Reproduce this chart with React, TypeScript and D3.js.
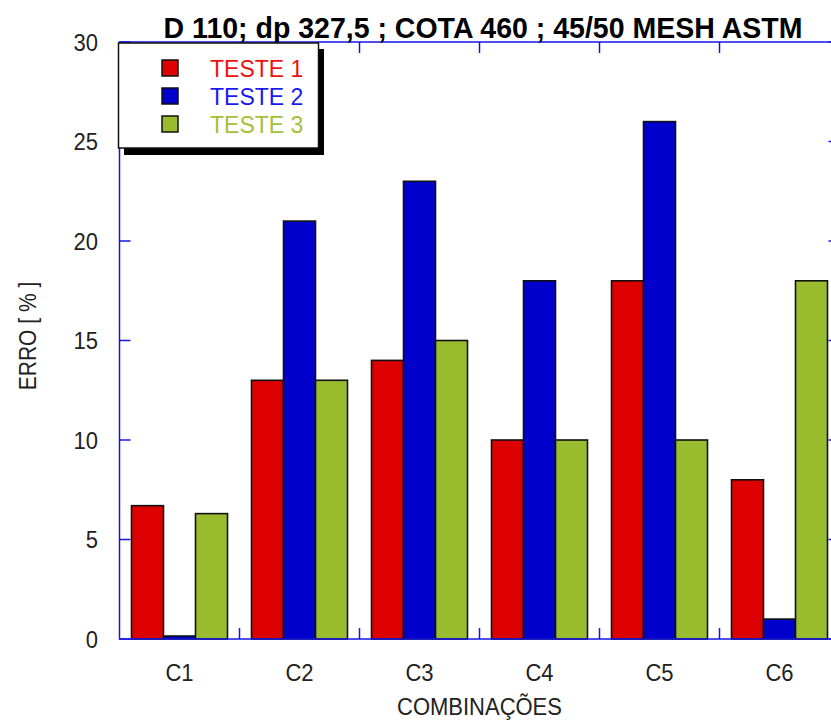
import React, { useEffect, useRef } from "react";
import * as d3 from "d3";

const categories = ["C1", "C2", "C3", "C4", "C5", "C6"];
const seriesNames = ["TESTE 1", "TESTE 2", "TESTE 3"];
const teste1 = [6.7, 13, 14, 10, 18, 8];
const teste2 = [0.15, 21, 23, 18, 26, 1];
const teste3 = [6.3, 13, 15, 10, 10, 18];
const yTicks = [0, 5, 10, 15, 20, 25, 30];
const barColors = ["#dd0000", "#0000cc", "#99bb2e"];
const textColors = ["#ee1111", "#1a1aee", "#a4c038"];
const title = "D 110; dp 327,5 ; COTA 460 ; 45/50 MESH ASTM";
const yLabel = "ERRO [ % ]";
const xLabel = "COMBINAÇÕES";

export default function App() {
  const ref = useRef<SVGSVGElement>(null);

  useEffect(() => {
    const svg = d3.select(ref.current);
    svg.selectAll("*").remove();
    const left = 119.5, right = 839.5, top = 42, bottom = 639;
    const axisColor = "#1414e6";
    const font = "Arial, 'Liberation Sans', sans-serif";
    const sy = 1.1;

    const x0 = d3.scaleBand<string>().domain(categories).range([left, right]).paddingInner(0).paddingOuter(0);
    const x1 = d3.scaleBand<string>().domain(seriesNames).range([0, x0.bandwidth()]).paddingInner(0).paddingOuter(0.375);
    const y = d3.scaleLinear().domain([0, 30]).range([bottom, top]);

    const data = [teste1, teste2, teste3];

    svg.append("rect").attr("x", 0).attr("y", 0).attr("width", 831).attr("height", 722).attr("fill", "#fff");

    // bars
    const g = svg.append("g");
    categories.forEach((c, i) => {
      seriesNames.forEach((s, j) => {
        const v = data[j][i];
        g.append("rect")
          .attr("x", (x0(c) as number) + (x1(s) as number))
          .attr("y", y(v))
          .attr("width", x1.bandwidth())
          .attr("height", y(0) - y(v))
          .attr("fill", barColors[j])
          .attr("stroke", "#111")
          .attr("stroke-width", 1.6);
      });
    });

    // axes frame
    const ax = svg.append("g").attr("stroke", axisColor).attr("stroke-width", 1.5).attr("fill", "none");
    ax.append("rect").attr("x", left).attr("y", top).attr("width", right - left).attr("height", bottom - top);
    const tl = 11;
    yTicks.forEach((t) => {
      ax.append("line").attr("x1", left).attr("x2", left + tl).attr("y1", y(t)).attr("y2", y(t));
      ax.append("line").attr("x1", right).attr("x2", right - tl).attr("y1", y(t)).attr("y2", y(t));
    });
    categories.slice(1).forEach((c) => {
      const xx = x0(c) as number;
      ax.append("line").attr("x1", xx).attr("x2", xx).attr("y1", bottom).attr("y2", bottom - tl);
      ax.append("line").attr("x1", xx).attr("x2", xx).attr("y1", top).attr("y2", top + tl);
    });

    // tick labels
    svg.append("g").selectAll("text").data(yTicks).join("text")
      .attr("transform", (d) => `translate(98,${y(d) + 8.5}) scale(1,${sy})`)
      .attr("text-anchor", "end").attr("font-family", font).attr("font-size", 22).attr("fill", "#222")
      .text((d) => String(d));
    svg.append("g").selectAll("text").data(categories).join("text")
      .attr("transform", (d) => `translate(${(x0(d) as number) + x0.bandwidth() / 2},681) scale(1,${sy})`)
      .attr("text-anchor", "middle").attr("font-family", font).attr("font-size", 22).attr("fill", "#222")
      .text((d) => d);

    svg.append("text").attr("transform", `translate(479.5,715) scale(1,${sy})`).attr("text-anchor", "middle")
      .attr("font-family", font).attr("font-size", 22).attr("fill", "#222").text(xLabel);
    svg.append("text").attr("transform", `translate(36,336) rotate(-90) scale(1,${sy})`).attr("text-anchor", "middle")
      .attr("font-family", font).attr("font-size", 21).attr("fill", "#222").text(yLabel);
    svg.append("text").attr("transform", `translate(483,38) scale(1,1.05)`).attr("text-anchor", "middle")
      .attr("font-family", font).attr("font-size", 28.5).attr("font-weight", "bold").attr("fill", "#000").text(title);

    // legend
    const lg = svg.append("g");
    lg.append("rect").attr("x", 124).attr("y", 49).attr("width", 200).attr("height", 106).attr("fill", "#000");
    lg.append("rect").attr("x", 118.5).attr("y", 43).attr("width", 200).attr("height", 105)
      .attr("fill", "#fff").attr("stroke", "#111").attr("stroke-width", 1.5);
    seriesNames.forEach((s, j) => {
      const yy = 59 + j * 28;
      lg.append("rect").attr("x", 162).attr("y", yy + 1).attr("width", 16).attr("height", 16)
        .attr("fill", barColors[j]).attr("stroke", "#111").attr("stroke-width", 1.5);
      lg.append("text").attr("x", 210).attr("y", yy + 18).attr("font-family", font).attr("font-size", 23)
        .attr("fill", textColors[j]).text(s);
    });
  }, []);

  return (
    <svg ref={ref} width={831} height={722} style={{ position: "fixed", left: 0, top: 0, display: "block" }} />
  );
}
